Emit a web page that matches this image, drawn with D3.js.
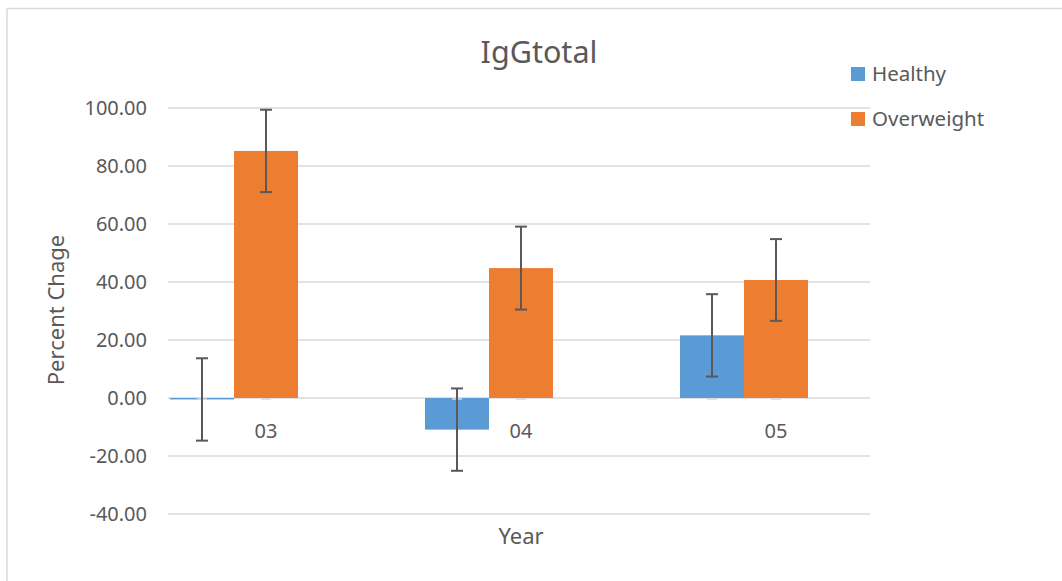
<!DOCTYPE html>
<html><head><meta charset="utf-8">
<script src="https://cdn.jsdelivr.net/npm/d3@7"></script>
<style>
body{margin:0;background:#fff;}
text{font-family:"Noto Sans","Open Sans",sans-serif;fill:#595959;}
</style></head>
<body><svg id="c" width="1062" height="581"></svg>
<script>
const categories = ["03","04","05"];
const seriesNames = ["Healthy","Overweight"];
const healthy = [-0.5, -10.9, 21.6];
const overweight = [85.2, 44.8, 40.7];
const healthyErr = [14.2, 14.2, 14.2];
const overweightErr = [14.2, 14.3, 14.1];
const yTicks = [-40,-20,0,20,40,60,80,100];
const colors = ["#5B9BD5","#ED7D31"];

const svg = d3.select("#c");
// chart border (top & left visible)
svg.append("line").attr("x1",7).attr("x2",1062).attr("y1",8.5).attr("y2",8.5).attr("stroke","#d9d9d9").attr("stroke-width",1.5);
svg.append("line").attr("x1",7).attr("x2",7).attr("y1",8.5).attr("y2",581).attr("stroke","#d9d9d9").attr("stroke-width",1.5);

const y = d3.scaleLinear().domain([-40,100]).range([514,108]);
const gridX0 = 168, gridX1 = 870;
const x = d3.scaleBand().domain(categories).range([106.5,871.5]).paddingInner(0.498).paddingOuter(0.249);
const xs = d3.scaleBand().domain(seriesNames).range([0,x.bandwidth()]);

// gridlines
svg.append("g").selectAll("line").data(yTicks).join("line")
  .attr("x1",gridX0).attr("x2",gridX1)
  .attr("y1",d=>y(d)).attr("y2",d=>y(d))
  .attr("stroke","#d9d9d9").attr("stroke-width",1.5);

// y axis labels
const fmt = d => d.toFixed(2);
const yAxis = d3.axisLeft(y).tickValues(yTicks).tickFormat(fmt).tickSize(0).tickPadding(0);
const ga = svg.append("g").attr("transform",`translate(147,0)`).call(yAxis);
ga.select(".domain").remove();
ga.selectAll("text").attr("font-size",20).attr("fill","#595959").attr("font-family","'Noto Sans','Open Sans',sans-serif");

const data = categories.map((c,i)=>({c, vals:[{s:"Healthy",v:healthy[i],e:healthyErr[i]},{s:"Overweight",v:overweight[i],e:overweightErr[i]}]}));

const groups = svg.append("g").selectAll("g").data(data).join("g")
  .attr("transform",d=>`translate(${x(d.c)},0)`);

groups.selectAll("rect").data(d=>d.vals).join("rect")
  .attr("x",d=>xs(d.s)).attr("width",xs.bandwidth())
  .attr("y",d=>Math.min(y(d.v),y(0))).attr("height",d=>Math.max(1,Math.abs(y(d.v)-y(0))))
  .attr("fill",(d,i)=>colors[i]);

// small zero markers under bar centers
groups.selectAll("line.zm").data(d=>d.vals).join("line").attr("class","zm")
  .attr("x1",d=>xs(d.s)+xs.bandwidth()/2-5).attr("x2",d=>xs(d.s)+xs.bandwidth()/2+5)
  .attr("y1",y(0)+1).attr("y2",y(0)+1).attr("stroke","#d9d9d9").attr("stroke-width",1.5);

// error bars
const eb = groups.selectAll("g.eb").data(d=>d.vals).join("g").attr("class","eb")
  .attr("transform",d=>`translate(${xs(d.s)+xs.bandwidth()/2},0)`);
eb.append("line").attr("x1",0).attr("x2",0).attr("y1",d=>y(d.v+d.e)).attr("y2",d=>y(d.v-d.e)).attr("stroke","#595959").attr("stroke-width",2);
eb.append("line").attr("x1",-6).attr("x2",6).attr("y1",d=>y(d.v+d.e)).attr("y2",d=>y(d.v+d.e)).attr("stroke","#595959").attr("stroke-width",2);
eb.append("line").attr("x1",-6).attr("x2",6).attr("y1",d=>y(d.v-d.e)).attr("y2",d=>y(d.v-d.e)).attr("stroke","#595959").attr("stroke-width",2);

// category labels under orange bar
svg.append("g").selectAll("text").data(categories).join("text")
  .attr("x",d=>x(d)+xs("Overweight")+xs.bandwidth()/2).attr("y",438)
  .attr("text-anchor","middle").attr("font-size",20).text(d=>d);

// title
svg.append("text").attr("x",539).attr("y",63).attr("text-anchor","middle").attr("font-size",30.5).text("IgGtotal");
// axis titles
svg.append("text").attr("x",521).attr("y",544).attr("text-anchor","middle").attr("font-size",22).text("Year");
svg.append("text").attr("transform","translate(64,310) rotate(-90)").attr("text-anchor","middle").attr("font-size",22).text("Percent Chage");

// legend
const lg = svg.append("g").selectAll("g").data(seriesNames).join("g")
  .attr("transform",(d,i)=>`translate(851,${67+i*45})`);
lg.append("rect").attr("width",14).attr("height",14).attr("fill",(d,i)=>colors[i]);
lg.append("text").attr("x",21).attr("y",14).attr("font-size",20.5).text(d=>d);
</script></body></html>
